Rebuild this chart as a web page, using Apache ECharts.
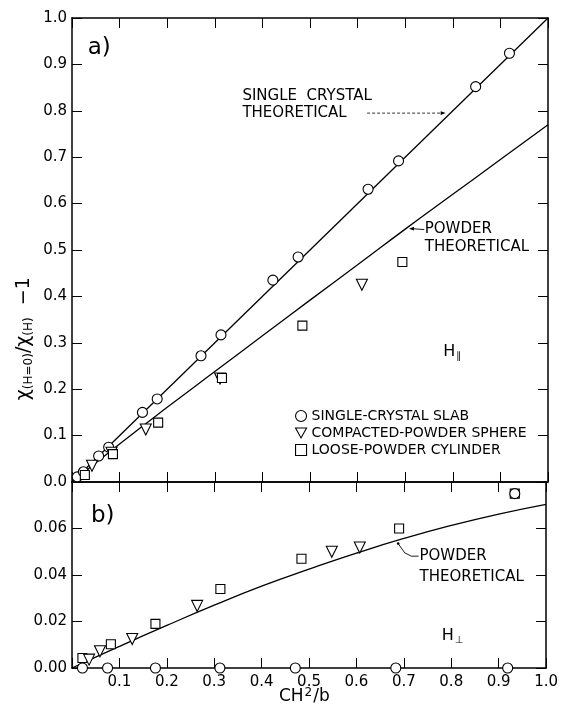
<!DOCTYPE html>
<html>
<head>
<meta charset="utf-8">
<script src="https://cdn.jsdelivr.net/npm/echarts@6/dist/echarts.min.js"></script>
<style>html,body{margin:0;padding:0;background:#fff;}#c{width:561px;height:711px;}</style>
</head>
<body>
<div id="c"></div>
<script>
// ---- data (x = CH^2/b, y = chi(H=0)/chi(H) - 1) ----
const slabTop = [[0.011,0.011],[0.024,0.022],[0.056,0.056],[0.077,0.075],[0.148,0.150],[0.179,0.179],[0.271,0.272],[0.313,0.317],[0.422,0.435],[0.475,0.485],[0.622,0.631],[0.686,0.692],[0.848,0.852],[0.919,0.924]];
const sphereTop = [[0.042,0.035],[0.083,0.063],[0.155,0.113],[0.311,0.223],[0.609,0.425]];
const cylTop = [[0.027,0.015],[0.086,0.060],[0.181,0.128],[0.315,0.224],[0.484,0.337],[0.694,0.474]];
const singleTheoryTop = [[0,0],[1,1]];
const powderTheoryTop = [[0,0],[0.1,0.082],[0.2,0.161],[0.3,0.238],[0.4,0.315],[0.5,0.392],[0.6,0.468],[0.7,0.545],[0.8,0.620],[0.9,0.695],[1.0,0.77]];

const slabBot = [[0.022,0],[0.075,0],[0.176,0],[0.312,0],[0.471,0],[0.683,0],[0.919,0],[0.934,0.075]];
const sphereBot = [[0.036,0.0036],[0.059,0.0072],[0.127,0.0125],[0.264,0.0267],[0.548,0.050],[0.607,0.0518]];
const cylBot = [[0.022,0.0043],[0.082,0.0102],[0.176,0.019],[0.313,0.034],[0.484,0.047],[0.690,0.060],[0.934,0.075]];
const powderTheoryBot = [[0,0],[0.1,0.0093],[0.2,0.0183],[0.3,0.0270],[0.4,0.0352],[0.5,0.0425],[0.6,0.0494],[0.7,0.0557],[0.8,0.0613],[0.9,0.0662],[1.0,0.0704]];

const legendNames = ['SINGLE-CRYSTAL SLAB','COMPACTED-POWDER SPHERE','LOOSE-POWDER CYLINDER'];

const FONT = 'DejaVu Sans';
const DOWN_TRI = 'path://M0,0 L10,0 L5,9 Z';
const chart = echarts.init(document.getElementById('c'));

function xAx(grid, pos, labels){
  return {type:'value', gridIndex:grid, position:pos, min:0, max:1, interval:0.1,
    axisLine:{show:true, onZero:false, lineStyle:{color:'#000', width:1.5}},
    axisTick:{show:true, inside:true, length:10, lineStyle:{color:'#000', width:1}},
    axisLabel:{show:labels, margin:7, color:'#000', fontFamily:FONT, fontSize:15,
      formatter:v=> (v<0.001 ? '' : v.toFixed(1))},
    splitLine:{show:false}};
}
function yAx(grid, pos, max, iv, dec, labels){
  return {type:'value', gridIndex:grid, position:pos, min:0, max:max, interval:iv,
    axisLine:{show:true, onZero:false, lineStyle:{color:'#000', width:1.5}},
    axisTick:{show:true, inside:true, length:10, lineStyle:{color:'#000', width:1}},
    axisLabel:{show:labels, margin:5, color:'#000', fontFamily:FONT, fontSize:15,
      formatter:v=> (grid===1 && v>0.079 ? '' : v.toFixed(dec))},
    splitLine:{show:false}};
}
const mk = {color:'#fff', borderColor:'#000', borderWidth:1.1, opacity:1};
function scatter(name, data, xi, yi, sym, size){
  return {name:name, type:'scatter', xAxisIndex:xi, yAxisIndex:yi, data:data,
    symbol:sym, symbolSize:size, itemStyle:mk, z:5, emphasis:{disabled:true}};
}
function line(data, xi, yi){
  return {type:'line', xAxisIndex:xi, yAxisIndex:yi, data:data, showSymbol:false, smooth:true,
    lineStyle:{color:'#000', width:1.3}, z:3, silent:true};
}

chart.setOption({
  animation:false,
  backgroundColor:'#fff',
  grid:[{left:72, top:18, width:476, height:464},{left:72, top:482, width:476, height:186}],
  xAxis:[xAx(0,'bottom',false), xAx(0,'top',false), xAx(1,'bottom',true), xAx(1,'top',false)],
  yAxis:[yAx(0,'left',1,0.1,1,true), yAx(0,'right',1,0.1,1,false), yAx(1,'left',0.08,0.02,2,true), yAx(1,'right',0.08,0.02,2,false)],
  legend:{orient:'vertical', left:290, top:404, itemGap:3, itemWidth:11, itemHeight:11,
    itemStyle:{color:'#fff', borderColor:'#000', borderWidth:1.1},
    data:[{name:legendNames[0], icon:'circle'},{name:legendNames[1], icon:DOWN_TRI},{name:legendNames[2], icon:'rect'}],
    textStyle:{color:'#000', fontFamily:FONT, fontSize:14}, selectedMode:false},
  series:[
    line(singleTheoryTop,0,0),
    line(powderTheoryTop,0,0),
    scatter(legendNames[0], slabTop,0,0,'circle',10),
    scatter(legendNames[1], sphereTop,0,0,DOWN_TRI,11),
    scatter(legendNames[2], cylTop,0,0,'rect',9),
    line(powderTheoryBot,2,2),
    scatter(legendNames[2], cylBot,2,2,'rect',9),
    scatter(legendNames[0], slabBot,2,2,'circle',10),
    scatter(legendNames[1], sphereBot,2,2,DOWN_TRI,11)
  ]
});

// annotations placed in data coordinates
function P(g, x, y){ return chart.convertToPixel({gridIndex:g}, [x,y]); }
function txt(p, t, size, extra){
  return Object.assign({type:'text', x:p[0], y:p[1], style:{text:t, fill:'#000', font:(size||14)+'px "'+FONT+'"', textAlign:'left', textVerticalAlign:'middle'}}, extra||{});
}
function arrowHead(tip, dirx, diry, L, W){
  const n = Math.hypot(dirx,diry); const ux=dirx/n, uy=diry/n;
  const bx = tip[0]-ux*L, by = tip[1]-uy*L;
  return {type:'polygon', shape:{points:[[tip[0],tip[1]],[bx-uy*W,by+ux*W],[bx+uy*W,by-ux*W]]}, style:{fill:'#000'}};
}
const els = [];
// panel labels
els.push(txt(P(0,0.033,0.935),'a)',23));
els.push(txt(P(1,0.040,0.0655),'b)',23));
// single crystal theoretical
els.push(txt(P(0,0.358,0.832),'SINGLE  CRYSTAL',15));
els.push(txt(P(0,0.358,0.795),'THEORETICAL',15));
let a1 = P(0,0.62,0.795), a2 = P(0,0.785,0.795);
els.push({type:'line', shape:{x1:a1[0], y1:a1[1], x2:a2[0]-4, y2:a2[1]}, style:{stroke:'#000', lineWidth:0.8, lineDash:[3,2]}});
els.push(arrowHead(a2,1,0,5,1.8));
// powder theoretical (top)
els.push(txt(P(0,0.741,0.544),'POWDER',15));
els.push(txt(P(0,0.741,0.506),'THEORETICAL',15));
let b1 = P(0,0.740,0.544), b2 = P(0,0.708,0.546);
els.push({type:'line', shape:{x1:b1[0], y1:b1[1], x2:b2[0]+3, y2:b2[1]}, style:{stroke:'#000', lineWidth:0.9}});
els.push(arrowHead(b2,-1,0,5,1.8));
// H parallel
els.push({type:'text', x:P(0,0.78,0)[0], y:P(0,0,0.28)[1], style:{text:'H{s|∥}', fill:'#000', font:'16px "'+FONT+'"', textVerticalAlign:'middle', rich:{s:{fontSize:10, fontFamily:FONT, verticalAlign:'bottom', padding:[8,0,0,1]}}}});
// powder theoretical (bottom)
els.push(txt(P(1,0.733,0.0481),'POWDER',15));
els.push(txt(P(1,0.733,0.0392),'THEORETICAL',15));
let c0 = P(1,0.688,0.0535), c1 = P(1,0.702,0.0495), c2 = P(1,0.716,0.0481), c3 = P(1,0.731,0.0481);
els.push({type:'polyline', shape:{points:[c0,c1,c2,c3]}, style:{stroke:'#000', lineWidth:0.9, fill:null}});
els.push({type:'circle', shape:{cx:c0[0], cy:c0[1], r:1.3}, style:{fill:'#000'}});
// H perp
els.push({type:'text', x:P(1,0.78,0)[0], y:P(1,0,0.0138)[1], style:{text:'H{s|⊥}', fill:'#000', font:'16px "'+FONT+'"', textVerticalAlign:'middle', rich:{s:{fontSize:10, fontFamily:FONT, verticalAlign:'bottom', padding:[8,0,0,1]}}}});
// axis titles
els.push({type:'text', x:24, y:P(0,0,0.27)[1]-18, rotation:Math.PI/2,
  style:{text:'χ{s|(H=0)}/χ{s|(H)}  −1', fill:'#000', font:'19px "'+FONT+'"', textAlign:'center', textVerticalAlign:'middle',
    rich:{s:{fontSize:12, fontFamily:FONT, verticalAlign:'bottom', padding:[9,0,0,0]}}}});
els.push({type:'text', x:P(1,0.49,0)[0], y:697,
  style:{text:'CH{p|2}/b', fill:'#000', font:'17px "'+FONT+'"', textAlign:'center', textVerticalAlign:'middle',
    rich:{p:{fontSize:12, fontFamily:FONT, verticalAlign:'top', padding:[0,1,8,1]}}}});
chart.setOption({graphic:{elements:els}});
</script>
</body>
</html>
